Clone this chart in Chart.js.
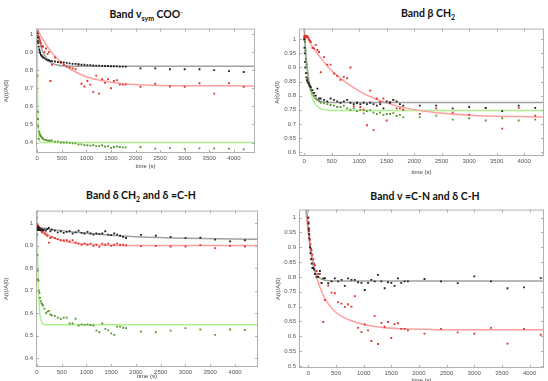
<!DOCTYPE html>
<html>
<head>
<meta charset="utf-8">
<script src="https://cdn.jsdelivr.net/npm/chart.js@4.4.0/dist/chart.umd.min.js"></script>
<style>
  body { margin: 0; width: 548px; height: 381px; background: #fff; position: relative; overflow: hidden; font-family: Lato, sans-serif; }
  canvas { position: absolute; }
  .ttl { position: absolute; font-weight: bold; font-size: 10.5px; white-space: nowrap; transform: translate(-50%, -50%); color: #111; }
  .ttl sub { font-size: 7px; }
  .ttl sup { font-size: 6px; }
</style>
</head>
<body>
<div class="ttl" style="left:146px;top:15px">Band ν<sub>sym</sub> COO<sup>-</sup></div>
<div class="ttl" style="left:428px;top:14px">Band β CH<sub>2</sub></div>
<div class="ttl" style="left:141px;top:196px">Band δ CH<sub>2</sub> and δ =C-H</div>
<div class="ttl" style="left:425px;top:196px">Band ν =C-N and δ C-H</div>
<canvas id="c1"></canvas>
<canvas id="c2"></canvas>
<canvas id="c3"></canvas>
<canvas id="c4"></canvas>
<script>
// measurement times (s)
const T = [0, 5, 10, 15, 20, 30, 40, 50, 60, 75, 90, 105, 120, 150, 180, 210, 240, 270,
  300, 360, 420, 480, 540, 600, 660, 720, 780, 840, 900, 960, 1020, 1080, 1140, 1200, 1260,
  1320, 1380, 1440, 1500, 1560, 1620, 1680, 1740, 1800,
  2100, 2400, 2700, 3000, 3300, 3600, 3900, 4200];
const xTicks = [0, 500, 1000, 1500, 2000, 2500, 3000, 3500, 4000];

// --- Band v sym COO-
const p1Black = [1.02, 1.0, 0.98, 0.96, 0.95, 0.93, 0.915, 0.905, 0.895, 0.885, 0.88, 0.875, 0.87, 0.865, 0.86, 0.855, 0.855, 0.85,
  0.85, 0.848, 0.845, 0.845, 0.843, 0.84, 0.838, 0.835, 0.835, 0.833, 0.83, 0.83, 0.828, 0.828, 0.826, 0.825, 0.825,
  0.824, 0.823, 0.823, 0.822, 0.822, 0.821, 0.82, 0.82, 0.82,
  0.81, 0.81, 0.805, 0.805, 0.805, 0.80, 0.795, 0.79];
const p1Red = [1.02, 1.01, 1.0, 1.0, 0.99, 0.985, 0.98, 0.97, 0.96, 0.95, 0.935, 0.93, 0.93, 0.9, 0.92, 0.89, 0.9, 0.74,
  0.83, 0.87, 0.845, 0.84, 0.83, 0.82, 0.815, 0.81, 0.805, 0.83, 0.725, 0.71, 0.74, 0.72, 0.68, 0.77, 0.67,
  0.75, 0.73, 0.75, 0.70, 0.74, 0.745, 0.72, 0.72, 0.72,
  0.708, 0.725, 0.71, 0.708, 0.728, 0.67, 0.728, 0.708];
const p1Green = [1.0, 0.77, 0.57, 0.53, 0.49, 0.42, 0.46, 0.45, 0.44, 0.435, 0.43, 0.425, 0.42, 0.415, 0.415, 0.41, 0.41, 0.41,
  0.41, 0.405, 0.405, 0.40, 0.40, 0.40, 0.398, 0.395, 0.395, 0.39, 0.39, 0.385, 0.385, 0.383, 0.385, 0.38, 0.38,
  0.385, 0.378, 0.38, 0.37, 0.375, 0.378, 0.375, 0.373, 0.373,
  0.375, 0.366, 0.37, 0.365, 0.368, 0.368, 0.366, 0.362];
const fitT1 = [0, 5, 10, 20, 30, 50, 75, 100, 150, 200, 300, 400, 600, 800, 1000, 1300, 1700, 2500, 4430];
const p1BlackFit = [1.03, 1.02, 1.013, 0.997, 0.982, 0.959, 0.932, 0.912, 0.882, 0.861, 0.839, 0.829, 0.823, 0.822, 0.822, 0.822, 0.822, 0.822, 0.822];
const p1RedFit = [1.03, 1.027, 1.024, 1.019, 1.013, 1.002, 0.989, 0.978, 0.956, 0.933, 0.897, 0.866, 0.82, 0.787, 0.764, 0.743, 0.727, 0.716, 0.713];
const p1GreenFit = [1.03, 0.78, 0.63, 0.485, 0.43, 0.404, 0.40, 0.40, 0.40, 0.40, 0.40, 0.40, 0.40, 0.40, 0.40, 0.40, 0.40, 0.40, 0.40];
const p1YTicks = [0.4, 0.5, 0.6, 0.7, 0.8, 0.9, 1];

// --- Band beta CH2
const p2Black = [1.0, 0.97, 0.95, 0.92, 0.9, 0.88, 0.865, 0.855, 0.85, 0.845, 0.84, 0.835, 0.83, 0.82, 0.81, 0.80, 0.825, 0.79,
  0.79, 0.785, 0.78, 0.79, 0.785, 0.78, 0.775, 0.78, 0.785, 0.775, 0.77, 0.775, 0.77, 0.775, 0.77, 0.775, 0.77,
  0.765, 0.77, 0.755, 0.78, 0.775, 0.785, 0.78, 0.77, 0.765,
  0.765, 0.765, 0.755, 0.76, 0.757, 0.745, 0.765, 0.757];
const p2Red = [1.0, 1.005, 1.01, 1.01, 1.012, 1.01, 1.012, 1.01, 1.01, 1.005, 1.0, 0.995, 0.99, 0.97, 0.968, 0.98, 0.962, 0.955,
  0.883, 0.937, 0.91, 0.91, 0.878, 0.87, 0.856, 0.867, 0.862, 0.9, 0.762, 0.773, 0.76, 0.75, 0.695, 0.818, 0.678,
  0.79, 0.778, 0.79, 0.712, 0.778, 0.785, 0.755, 0.755, 0.75,
  0.735, 0.755, 0.74, 0.733, 0.757, 0.683, 0.757, 0.729];
const p2Green = [1.01, 1.005, 1.0, 0.99, 0.96, 0.93, 0.91, 0.88, 0.86, 0.845, 0.835, 0.83, 0.82, 0.81, 0.80, 0.79, 0.785, 0.78,
  0.775, 0.773, 0.77, 0.767, 0.765, 0.76, 0.76, 0.765, 0.755, 0.75, 0.755, 0.745, 0.75, 0.737, 0.745, 0.748, 0.74,
  0.735, 0.74, 0.732, 0.735, 0.735, 0.738, 0.728, 0.732, 0.723,
  0.724, 0.729, 0.715, 0.72, 0.712, 0.72, 0.712, 0.715];
const fitT2 = [0, 10, 20, 30, 50, 75, 100, 150, 200, 300, 400, 500, 700, 1000, 1300, 1700, 2200, 3000, 4360];
const p2BlackFit = [1.04, 1.005, 0.974, 0.948, 0.905, 0.867, 0.839, 0.807, 0.791, 0.78, 0.777, 0.776, 0.776, 0.776, 0.776, 0.776, 0.776, 0.776, 0.776];
const p2RedFit = [1.022, 1.019, 1.015, 1.012, 1.005, 0.997, 0.989, 0.974, 0.96, 0.934, 0.91, 0.889, 0.855, 0.816, 0.788, 0.763, 0.745, 0.731, 0.724];
const p2GreenFit = [1.04, 1.005, 0.975, 0.948, 0.903, 0.861, 0.83, 0.79, 0.77, 0.754, 0.749, 0.747, 0.747, 0.747, 0.747, 0.747, 0.747, 0.747, 0.747];
const p2YTicks = [0.6, 0.65, 0.7, 0.75, 0.8, 0.85, 0.9, 0.95, 1];

// --- Band delta CH2 and delta =C-H
const p3Black = [0.98, 0.975, 0.985, 0.97, 0.98, 0.975, 0.97, 0.98, 0.975, 0.97, 0.975, 0.97, 0.97, 0.972, 0.968, 0.975, 0.98, 0.965,
  0.972, 0.968, 0.96, 0.965, 0.958, 0.962, 0.965, 0.955, 0.96, 0.968, 0.958, 0.955, 0.962, 0.955, 0.95, 0.955, 0.952,
  0.955, 0.965, 0.95, 0.948, 0.955, 0.95, 0.945, 0.94, 0.935,
  0.949, 0.945, 0.94, 0.934, 0.936, 0.928, 0.92, 0.925];
const p3Red = [1.0, 0.995, 0.99, 0.985, 0.99, 0.98, 0.985, 0.975, 0.97, 0.975, 0.965, 0.96, 0.965, 0.955, 0.95, 0.945, 0.914, 0.935,
  0.94, 0.935, 0.93, 0.925, 0.925, 0.925, 0.92, 0.925, 0.915, 0.91, 0.905, 0.91, 0.905, 0.91, 0.9, 0.905, 0.895,
  0.91, 0.905, 0.91, 0.9, 0.905, 0.91, 0.905, 0.905, 0.902,
  0.899, 0.9, 0.897, 0.897, 0.903, 0.89, 0.9, 0.897];
const p3Green = [1.026, 0.95, 0.86, 0.79, 0.75, 0.745, 0.70, 0.69, 0.668, 0.655, 0.645, 0.64, 0.634, 0.62, 0.60, 0.607, 0.61, 0.594,
  0.59, 0.588, 0.58, 0.575, 0.58, 0.58, 0.554, 0.554, 0.575, 0.545, 0.55, 0.548, 0.55, 0.547, 0.545, 0.522, 0.515,
  0.554, 0.53, 0.523, 0.51, 0.503, 0.54, 0.54, 0.535, 0.533,
  0.518, 0.515, 0.522, 0.533, 0.527, 0.503, 0.527, 0.525];
const fitT3 = [-20, 0, 5, 10, 20, 30, 50, 75, 100, 150, 200, 300, 400, 600, 800, 1000, 1500, 2000, 3000, 4470];
const p3BlackFit = [0.985, 0.984, 0.984, 0.983, 0.983, 0.983, 0.982, 0.981, 0.98, 0.978, 0.977, 0.973, 0.97, 0.965, 0.96, 0.956, 0.947, 0.941, 0.934, 0.929];
const p3RedFit = [1.0, 0.99, 0.989, 0.988, 0.986, 0.984, 0.98, 0.975, 0.97, 0.961, 0.953, 0.94, 0.93, 0.918, 0.911, 0.907, 0.903, 0.902, 0.902, 0.902];
const p3GreenFit = [1.3, 1.06, 0.966, 0.89, 0.777, 0.702, 0.617, 0.573, 0.557, 0.549, 0.548, 0.548, 0.548, 0.548, 0.548, 0.548, 0.548, 0.548, 0.548, 0.548];
const p3YTicks = [0.4, 0.5, 0.6, 0.7, 0.8, 0.9, 1];

// --- Band v =C-N and delta C-H
const p4Black = [1.0, 0.98, 0.96, 0.945, 0.93, 0.9, 0.88, 0.86, 0.845, 0.83, 0.83, 0.825, 0.81, 0.80, 0.80, 0.82, 0.78, 0.795,
  0.796, 0.779, 0.785, 0.795, 0.785, 0.79, 0.77, 0.795, 0.79, 0.79, 0.782, 0.78, 0.756, 0.78, 0.79, 0.785, 0.807,
  0.785, 0.762, 0.782, 0.78, 0.77, 0.795, 0.78, 0.785, 0.785,
  0.793, 0.785, 0.779, 0.802, 0.785, 0.762, 0.765, 0.796];
const p4Red = [1.0, 0.985, 0.965, 0.955, 0.94, 0.925, 0.91, 0.895, 0.89, 0.875, 0.86, 0.845, 0.84, 0.82, 0.81, 0.81, 0.78, 0.648,
  0.722, 0.771, 0.747, 0.745, 0.715, 0.71, 0.699, 0.708, 0.70, 0.735, 0.628, 0.614, 0.64, 0.62, 0.584, 0.668, 0.574,
  0.645, 0.632, 0.648, 0.594, 0.641, 0.644, 0.625, 0.625, 0.62,
  0.609, 0.625, 0.613, 0.609, 0.628, 0.575, 0.625, 0.605];
const fitT4 = [-60, -30, 0, 25, 50, 75, 100, 150, 200, 300, 400, 500, 700, 900, 1200, 1600, 2200, 3000, 4270];
const p4BlackFit = [1.12, 1.03, 0.96, 0.91, 0.875, 0.85, 0.83, 0.808, 0.797, 0.789, 0.787, 0.786, 0.786, 0.786, 0.786, 0.786, 0.786, 0.786, 0.786];
const p4RedFit = [1.04, 0.995, 0.95, 0.92, 0.89, 0.865, 0.84, 0.80, 0.77, 0.728, 0.70, 0.68, 0.658, 0.645, 0.633, 0.626, 0.623, 0.622, 0.622];
const p4YTicks = [0.5, 0.55, 0.6, 0.65, 0.7, 0.75, 0.8, 0.85, 0.9, 0.95, 1];

const colBlack = '#222', colRed = '#e3302a', colGreen = '#55962f';
const fitBlack = '#a0a0a0', fitRed = '#ffa0a0', fitGreen = '#aef08c';
const tickFont = { family: 'Liberation Sans', size: 6 };

function pts(t, v) { return t.map((x, i) => ({ x: x, y: v[i] })); }
function dots(t, v, c) {
  return { data: pts(t, v), backgroundColor: c, borderColor: c, pointStyle: 'rect', pointRadius: 1.3, borderWidth: 0, showLine: false, order: 1 };
}
function fit(t, v, c) {
  return { data: pts(t, v), borderColor: c, borderWidth: 1.5, pointRadius: 0, showLine: true, cubicInterpolationMode: 'monotone', order: 2 };
}

// box around plot area with inward ticks, like the original figure
const frame = {
  id: 'frame',
  afterDraw(chart) {
    const ctx = chart.ctx, a = chart.chartArea, x = chart.scales.x, y = chart.scales.y;
    ctx.save();
    ctx.strokeStyle = '#b0b0b0';
    ctx.lineWidth = 1;
    ctx.strokeRect(a.left + 0.5, a.top + 0.5, a.right - a.left - 1, a.bottom - a.top - 1);
    ctx.beginPath();
    x.ticks.forEach(tk => {
      const px = Math.round(x.getPixelForValue(tk.value)) + 0.5;
      ctx.moveTo(px, a.bottom); ctx.lineTo(px, a.bottom - 3);
      ctx.moveTo(px, a.top); ctx.lineTo(px, a.top + 3);
    });
    y.ticks.forEach(tk => {
      const py = Math.round(y.getPixelForValue(tk.value)) + 0.5;
      ctx.moveTo(a.left, py); ctx.lineTo(a.left + 3, py);
      ctx.moveTo(a.right, py); ctx.lineTo(a.right - 3, py);
    });
    ctx.stroke();
    ctx.restore();
  }
};

function panel(id, box, plot, xr, yr, yTicks, sets, yTitlePad) {
  const cv = document.getElementById(id);
  cv.width = box.w; cv.height = box.h;
  cv.style.left = box.l + 'px'; cv.style.top = box.t + 'px';
  new Chart(cv, {
    type: 'scatter',
    data: { datasets: sets },
    options: {
      responsive: false, animation: false, events: [],
      layout: { padding: { left: 0, top: plot.t - box.t, right: box.l + box.w - plot.r, bottom: 0 } },
      plugins: { legend: { display: false }, tooltip: { enabled: false } },
      scales: {
        x: {
          type: 'linear', min: xr[0], max: xr[1],
          grid: { display: false, drawTicks: false }, border: { display: false },
          afterBuildTicks: s => { s.ticks = xTicks.map(v => ({ value: v })); },
          afterFit: s => { s.height = box.t + box.h - plot.b; },
          ticks: { font: tickFont, color: '#555', padding: 2, maxRotation: 0, autoSkip: false, callback: v => String(v) },
          title: { display: true, text: 'time (s)', font: tickFont, color: '#444', padding: 0 }
        },
        y: {
          type: 'linear', min: yr[0], max: yr[1],
          grid: { display: false, drawTicks: false }, border: { display: false },
          afterBuildTicks: s => { s.ticks = yTicks.map(v => ({ value: v })); },
          afterFit: s => { s.width = plot.l - box.l; },
          ticks: { font: tickFont, color: '#555', padding: 3, autoSkip: false, callback: v => String(+v.toFixed(2)) },
          title: { display: true, text: 'A(t)/A(0)', font: tickFont, color: '#444', padding: { top: yTitlePad, bottom: 0 } }
        }
      }
    },
    plugins: [frame]
  });
}

panel('c1', { l: 0, t: 22, w: 274, h: 148 }, { l: 36, t: 25, r: 255, b: 153 }, [-25, 4430], [0.342, 1.03], p1YTicks, [
  dots(T, p1Black, colBlack), dots(T, p1Red, colRed), dots(T, p1Green, colGreen),
  fit(fitT1, p1BlackFit, fitBlack), fit(fitT1, p1RedFit, fitRed), fit(fitT1, p1GreenFit, fitGreen)
], 3);

panel('c2', { l: 274, t: 22, w: 274, h: 154 }, { l: 299, t: 25, r: 547, b: 156 }, [-95, 4360], [0.586, 1.038], p2YTicks, [
  dots(T, p2Black, colBlack), dots(T, p2Red, colRed), dots(T, p2Green, colGreen),
  fit(fitT2, p2BlackFit, fitBlack), fit(fitT2, p2RedFit, fitRed), fit(fitT2, p2GreenFit, fitGreen)
], 0);

panel('c3', { l: 0, t: 204, w: 274, h: 176 }, { l: 36, t: 208, r: 258, b: 367 }, [-20, 4465], [0.36, 1.057], p3YTicks, [
  dots(T, p3Black, colBlack), dots(T, p3Red, colRed), dots(T, p3Green, colGreen),
  fit(fitT3, p3BlackFit, fitBlack), fit(fitT3, p3RedFit, fitRed), fit(fitT3, p3GreenFit, fitGreen)
], 3);

panel('c4', { l: 274, t: 203, w: 274, h: 181 }, { l: 299, t: 207, r: 544, b: 368 }, [-168, 4260], [0.493, 1.027], p4YTicks, [
  dots(T, p4Black, colBlack), dots(T, p4Red, colRed),
  fit(fitT4, p4BlackFit, fitBlack), fit(fitT4, p4RedFit, fitRed)
], 1);
</script>
</body>
</html>
